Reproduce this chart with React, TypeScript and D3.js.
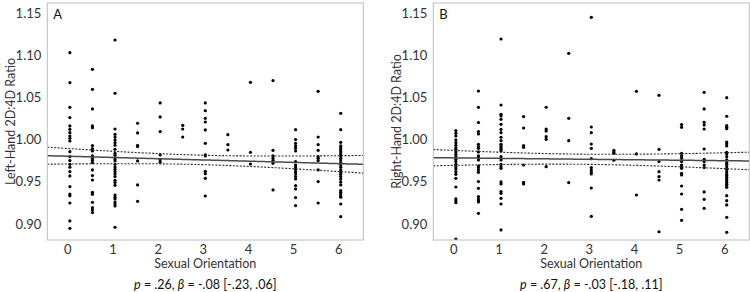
import React from "react";
import * as d3 from "d3";

const orientationLevels = [0, 0.5, 1, 1.5, 2, 2.5, 3, 3.5, 4, 4.5, 5, 5.5, 6];
const xTicks = [0, 1, 2, 3, 4, 5, 6];
const yTicks = [0.9, 0.95, 1.0, 1.05, 1.1, 1.15];

const leftHandValues: number[][] = [
  [1.1033, 1.0677, 1.0384, 1.0262, 1.0163, 1.0123, 1.0084, 1.0044, 1.0017, 0.9985, 0.9858, 0.9799, 0.9752, 0.9708, 0.9673, 0.9621, 0.957, 0.9443, 0.9356, 0.9336, 0.9249, 0.9036, 0.8949],
  [1.0835, 1.0598, 1.0365, 1.0163, 1.0143, 0.993, 0.9894, 0.9866, 0.9807, 0.9779, 0.9756, 0.9728, 0.9641, 0.9574, 0.9522, 0.9376, 0.9352, 0.9257, 0.9194, 0.9166, 0.9135],
  [1.1183, 1.0551, 1.0127, 1.0064, 1.0032, 0.9997, 0.9965, 0.9934, 0.9886, 0.9839, 0.9815, 0.9775, 0.9748, 0.9708, 0.9676, 0.9649, 0.9621, 0.9593, 0.9562, 0.9518, 0.9491, 0.9459, 0.9344, 0.9317, 0.9297, 0.9261, 0.9237, 0.9214, 0.8961],
  [1.0195, 1.008, 0.9934, 0.9918, 0.9748, 0.9463, 0.9269],
  [1.0436, 1.027, 1.0096, 0.9819, 0.976, 0.9732],
  [1.0171, 1.0127, 1.0032],
  [1.0436, 1.0345, 1.0254, 1.021, 1.0116, 0.9957, 0.9819, 0.9807, 0.9625, 0.9597, 0.9542, 0.9332],
  [1.006, 0.9941, 0.9878],
  [1.0681, 0.985, 0.9712],
  [1.0701, 0.9874, 0.9807, 0.9779, 0.9752, 0.972, 0.9404],
  [1.0119, 1.0001, 0.9957, 0.9926, 0.9898, 0.9866, 0.974, 0.97, 0.9677, 0.9649, 0.9621, 0.9593, 0.9562, 0.9534, 0.9455, 0.9415, 0.9313, 0.9218],
  [1.0574, 1.0032, 0.9941, 0.9874, 0.9799, 0.9779, 0.9752, 0.9641, 0.9503, 0.9249],
  [1.0313, 1.0119, 0.9969, 0.9926, 0.9902, 0.9878, 0.9858, 0.9831, 0.9807, 0.9779, 0.976, 0.9728, 0.97, 0.9673, 0.9641, 0.9613, 0.9589, 0.9562, 0.9534, 0.9499, 0.9463, 0.9396, 0.9376, 0.9356, 0.9336, 0.9317, 0.9237, 0.9087],
];

const rightHandValues: number[][] = [
  [1.0108, 1.0076, 1.0044, 0.9997, 0.9965, 0.9934, 0.9906, 0.9886, 0.9855, 0.9827, 0.9799, 0.9767, 0.974, 0.9708, 0.968, 0.9653, 0.9621, 0.9589, 0.9542, 0.9439, 0.9297, 0.9277, 0.9253, 0.8822],
  [1.0578, 1.0384, 1.0203, 1.0096, 1.0068, 0.9945, 0.9918, 0.9898, 0.9855, 0.9807, 0.9787, 0.976, 0.9688, 0.9669, 0.9641, 0.9613, 0.9503, 0.9423, 0.9325, 0.9297, 0.9277, 0.9261, 0.9127],
  [1.1195, 1.0412, 1.0301, 1.0282, 1.0242, 1.0183, 1.0123, 1.0084, 1.0029, 0.9989, 0.9945, 0.9926, 0.9906, 0.9886, 0.9866, 0.9799, 0.976, 0.9708, 0.968, 0.9661, 0.9499, 0.9475, 0.9384, 0.9364, 0.9305, 0.9237, 0.8929],
  [1.0274, 1.0139, 0.993, 0.991, 0.97, 0.9495, 0.9475],
  [1.0385, 1.0127, 1.0104, 1.0036, 1.0005, 0.968],
  [1.1025, 1.0254, 0.9989, 0.9491],
  [1.1452, 1.0151, 1.0084, 0.9949, 0.9898, 0.9775, 0.9669, 0.9641, 0.9617, 0.9594, 0.9427, 0.9091],
  [0.9874, 0.9855, 0.9839, 0.9756],
  [1.0574, 0.9831, 0.9344],
  [1.0527, 0.9886, 0.974, 0.9621, 0.9562, 0.9522, 0.8908],
  [1.0179, 1.0147, 0.9839, 0.9807, 0.9779, 0.974, 0.97, 0.968, 0.9661, 0.9601, 0.9582, 0.9451, 0.9356, 0.9174, 0.9044],
  [1.0562, 1.0365, 1.0207, 1.0175, 1.0127, 0.989, 0.9767, 0.974, 0.97, 0.9669, 0.938, 0.9293, 0.9186],
  [1.0499, 1.0278, 1.0167, 1.0147, 1.0131, 0.9973, 0.9953, 0.9926, 0.9851, 0.9831, 0.9799, 0.976, 0.9728, 0.9708, 0.968, 0.9649, 0.9621, 0.9593, 0.9574, 0.9554, 0.9534, 0.9514, 0.9491, 0.9471, 0.9455, 0.9435, 0.9336, 0.9277, 0.9226, 0.9079, 0.8901],
];

// regression fits: value = intercept + slope * x, CI half width = sqrt(a^2 + b^2 (x - xMean)^2)
const leftFit = { intercept: 0.9803, slope: -0.00146, a: 0.0056, b: 0.00247, xMean: 2.9 };
const rightFit = { intercept: 0.9784, slope: -0.000557, a: 0.006, b: 0.0023, xMean: 2.8 };

const panels = [
  {
    letter: "A",
    yLabel: "Left-Hand 2D:4D Ratio",
    values: leftHandValues,
    fit: leftFit,
    pText: ".26",
    betaText: "-.08 [-.23, .06]",
  },
  {
    letter: "B",
    yLabel: "Right-Hand 2D:4D Ratio",
    values: rightHandValues,
    fit: rightFit,
    pText: ".67",
    betaText: "-.03 [-.18, .11]",
  },
];

const FONT = "Lato, 'Noto Sans', sans-serif";

function Panel({ panel, left }: { panel: typeof panels[0]; left: number }) {
  const boxL = left;
  const boxR = left + 316;
  const boxT = 3;
  const boxB = 240;
  const x = d3.scaleLinear().domain([-0.5, 6.5]).range([boxL, boxR]);
  const y = d3.scaleLinear().domain([0.881, 1.1622]).range([boxB, boxT]);
  const f = panel.fit;
  const xs = d3.range(-0.5, 6.5001, 0.05);
  const mean = (v: number) => f.intercept + f.slope * v;
  const half = (v: number) => Math.sqrt(f.a * f.a + f.b * f.b * (v - f.xMean) * (v - f.xMean));
  const line = d3
    .line<number>()
    .x((d) => x(d))
    .y((d) => y(mean(d)));
  const upper = d3
    .line<number>()
    .x((d) => x(d))
    .y((d) => y(mean(d) + half(d)));
  const lower = d3
    .line<number>()
    .x((d) => x(d))
    .y((d) => y(mean(d) - half(d)));
  const cx = (boxL + boxR) / 2;
  return (
    <g>
      <defs>
        <clipPath id={"clip" + panel.letter}>
          <rect x={boxL} y={boxT} width={boxR - boxL} height={boxB - boxT} />
        </clipPath>
      </defs>
      <g clipPath={`url(#clip${panel.letter})`}>
        {panel.values.map((col, i) =>
          col.map((v, j) => (
            <circle key={i + "-" + j} cx={x(orientationLevels[i])} cy={y(v)} r={1.6} fill="#000" />
          ))
        )}
        <path d={line(xs) || ""} fill="none" stroke="#4a4a4a" strokeWidth={1.5} />
        <path d={upper(xs) || ""} fill="none" stroke="#2a2a2a" strokeWidth={1.1} strokeDasharray="2,1.5" />
        <path d={lower(xs) || ""} fill="none" stroke="#2a2a2a" strokeWidth={1.1} strokeDasharray="2,1.5" />
      </g>
      <rect x={boxL} y={boxT} width={boxR - boxL} height={boxB - boxT} fill="none" stroke="#bdbdbd" strokeWidth={1} />
      <text x={boxL + 6} y={boxT + 16} fontSize={13} fontFamily={FONT} fill="#111">
        {panel.letter}
      </text>
      {yTicks.map((t) => (
        <text key={t} x={boxL - 6} y={y(t)} dy="0.35em" textAnchor="end" fontSize={13} fontFamily={FONT} fill="#333">
          {d3.format(".2f")(t)}
        </text>
      ))}
      {xTicks.map((t) => (
        <text key={t} x={x(t) - 2} y={253.5} textAnchor="middle" fontSize={13} fontFamily={FONT} fill="#333">
          {t}
        </text>
      ))}
      <text x={cx} y={268.3} textAnchor="middle" fontSize={12.5} fontFamily={FONT} fill="#333">
        Sexual Orientation
      </text>
      <text
        transform={`translate(${boxL - 37},${(boxT + boxB) / 2}) rotate(-90)`}
        textAnchor="middle"
        dy="0.35em"
        fontSize={12.5}
        fontFamily={FONT}
        fill="#333"
      >
        {panel.yLabel}
      </text>
      <text x={cx} y={289} textAnchor="middle" fontSize={12.5} fontFamily={FONT} fill="#111">
        <tspan fontStyle="italic">p</tspan>
        {" = " + panel.pText + ", "}
        <tspan fontStyle="italic">β</tspan>
        {" = " + panel.betaText}
      </text>
    </g>
  );
}

export default function App() {
  return (
    <svg
      width={750}
      height={292}
      style={{ position: "fixed", left: 0, top: 0, background: "#fff", display: "block" }}
    >
      <rect x={0} y={0} width={750} height={292} fill="#fff" />
      <Panel panel={panels[0]} left={47.3} />
      <Panel panel={panels[1]} left={433.3} />
    </svg>
  );
}
